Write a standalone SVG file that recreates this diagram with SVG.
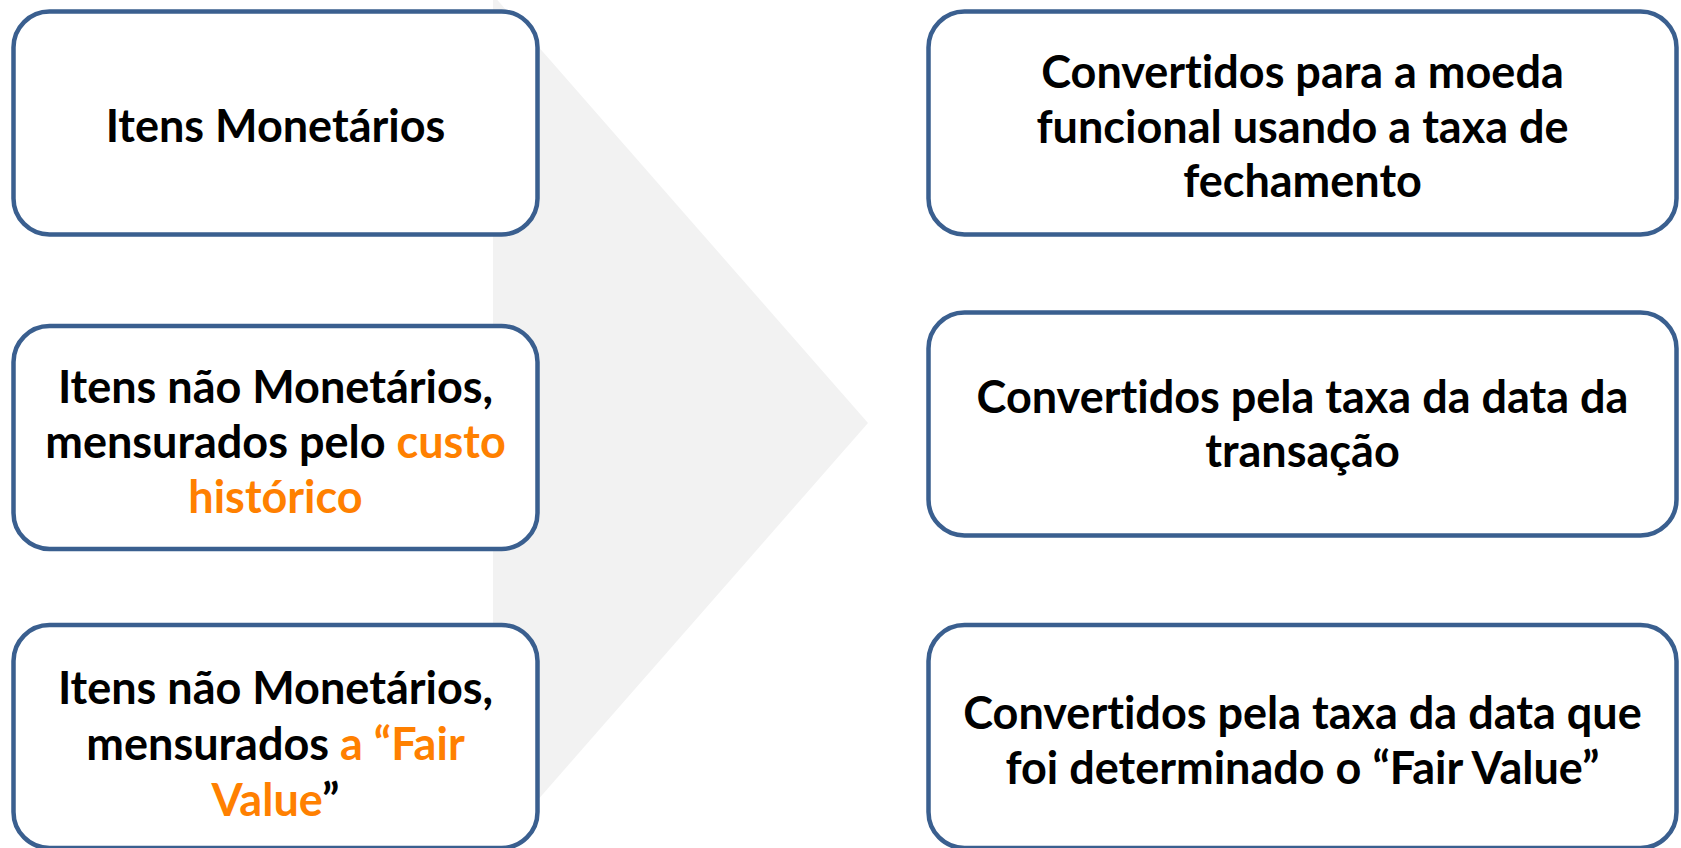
<svg xmlns="http://www.w3.org/2000/svg" width="1681" height="848" viewBox="0 0 1681 848">
<style>
.box{fill:#ffffff;stroke:#3A5F8F;stroke-width:4.5}
.t{font-family:Lato,"Liberation Sans",sans-serif;font-weight:bold;font-size:45px;fill:#000000;text-anchor:middle;font-variant-ligatures:none;font-feature-settings:"liga" 0,"dlig" 0}
.o{fill:#FF8000}
</style>
<rect width="1681" height="848" fill="#ffffff"/>
<g id="connectors">
<polygon points="493,-5 868,423 493,851" fill="#F2F2F2"/>
</g>
<g id="L1">
<rect class="box" x="13.5" y="11.5" width="524" height="223" rx="36"/>
<text class="t" x="275.5" y="142">Itens Monetários</text>
</g>
<g id="L2">
<rect class="box" x="13.5" y="326" width="524" height="223" rx="36"/>
<text class="t" x="275.5" y="403">Itens não Monetários,</text>
<text class="t" x="275.5" y="458">mensurados pelo <tspan class="o">custo</tspan></text>
<text class="t o" x="275.5" y="513">histórico</text>
</g>
<g id="L3">
<rect class="box" x="13.5" y="625" width="524" height="223" rx="36"/>
<text class="t" x="275.5" y="704">Itens não Monetários,</text>
<text class="t" x="275.5" y="760">mensurados <tspan class="o">a “Fair</tspan></text>
<text class="t" x="275.5" y="816"><tspan class="o">Value</tspan>”</text>
</g>
<g id="R1">
<rect class="box" x="928.5" y="11.5" width="748" height="223" rx="36"/>
<text class="t" x="1302.5" y="88">Convertidos para a moeda</text>
<text class="t" x="1302.5" y="143">funcional usando a taxa de</text>
<text class="t" x="1302.5" y="197">fechamento</text>
</g>
<g id="R2">
<rect class="box" x="928.5" y="312.5" width="748" height="223" rx="36"/>
<text class="t" x="1302.5" y="413">Convertidos pela taxa da data da</text>
<text class="t" x="1302.5" y="467">transação</text>
</g>
<g id="R3">
<rect class="box" x="928.5" y="625" width="748" height="223" rx="36"/>
<text class="t" x="1302.5" y="729">Convertidos pela taxa da data que</text>
<text class="t" x="1302.5" y="784">foi determinado o “Fair Value”</text>
</g>
</svg>
